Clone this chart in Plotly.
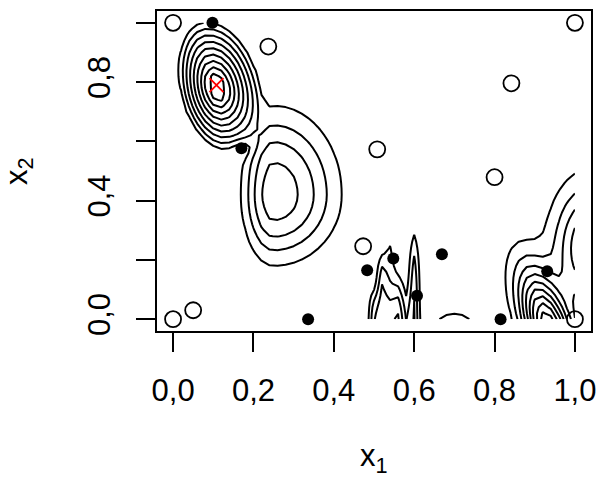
import numpy as np
import plotly.graph_objects as go

# ---- data ----
open_x = [0.0, 0.05, 0.0, 0.237, 0.508, 0.473, 0.80, 0.842, 1.0, 1.0]
open_y = [1.0, 0.03, 0.0, 0.92, 0.573, 0.246, 0.479, 0.796, 1.0, 0.0]
fill_x = [0.098, 0.17, 0.336, 0.483, 0.548, 0.607, 0.669, 0.815, 0.931]
fill_y = [1.0, 0.577, 0.0, 0.165, 0.205, 0.079, 0.219, 0.0, 0.162]
best_x = [0.108]
best_y = [0.79]

# surface bumps: centre, left/right and down/up spreads, tilt (deg), height,
# shape power (0 = flat-topped cone), cap
bump_cx = [0.108, 0.25, 0.17, 0.505, 0.602, 0.553, 0.70, 1.04, 0.94]
bump_cy = [0.78, 0.42, 0.577, -0.03, -0.03, -0.04, -0.03, 0.24, -0.05]
bump_sxl = [0.097, 0.068, 0.03, 0.02, 0.014, 0.03, 0.05, 0.088, 0.055]
bump_sxr = [0.115, 0.144, 0.03, 0.02, 0.014, 0.03, 0.05, 0.088, 0.055]
bump_syd = [0.23, 0.204, 0.03, 0.283, 0.31, 0.17, 0.05, 0.205, 0.208]
bump_syu = [0.245, 0.255, 0.03, 0.283, 0.31, 0.17, 0.05, 0.205, 0.208]
bump_ang = [8, 0, 0, -6, 0, 0, 0, 0, 14]
bump_h = [11.26, 4.5, -0.8, 3.0, 3.0, 4.3, 2.5, 5.5, 10.0]
bump_p = [0, 2.5, 2, 4, 4, 3, 2, 2, 2]
bump_cap = [9.4, 99, 99, 99, 99, 99, 99, 99, 99]

levels_start, levels_end, levels_step = 1, 10, 1
x_tick_vals = [0.0, 0.2, 0.4, 0.6, 0.8, 1.0]
x_tick_text = ["0,0", "0,2", "0,4", "0,6", "0,8", "1,0"]
y_tick_vals = [0.0, 0.4, 0.8]
y_tick_text = ["0,0", "0,4", "0,8"]

# ---- surface ----
gx = np.linspace(0, 1, 51)
gy = np.linspace(0, 1, 51)
X, Y = np.meshgrid(gx, gy)
Z = np.zeros_like(X)
for cx, cy, sxl, sxr, syd, syu, ang, h, p, cap in zip(
        bump_cx, bump_cy, bump_sxl, bump_sxr, bump_syd, bump_syu,
        bump_ang, bump_h, bump_p, bump_cap):
    a = np.deg2rad(ang)
    dx = X - cx
    dy = Y - cy
    u = -dx * np.sin(a) + dy * np.cos(a)
    v = dx * np.cos(a) + dy * np.sin(a)
    sx = np.where(v < 0, sxl, sxr)
    sy = np.where(u < 0, syd, syu)
    d = np.sqrt((v / sx) ** 2 + (u / sy) ** 2)
    if p == 0:
        f = h * np.clip(1 - d, 0, None)
    else:
        f = h * np.exp(-d ** p)
    Z += np.minimum(f, cap)

FONT = "Liberation Sans, Arial, Helvetica, sans-serif"
FS = 31

fig = go.Figure()
fig.add_trace(go.Contour(
    x=gx, y=gy, z=Z,
    contours=dict(coloring="lines", start=levels_start, end=levels_end, size=levels_step, showlabels=False),
    colorscale=[[0, "black"], [1, "black"]],
    showscale=False,
    line=dict(width=2, smoothing=0),
    hoverinfo="skip",
))
fig.add_trace(go.Scatter(
    x=open_x, y=open_y, mode="markers",
    marker=dict(symbol="circle-open", size=16, color="black", line=dict(width=1.8)),
    cliponaxis=False, hoverinfo="skip",
))
fig.add_trace(go.Scatter(
    x=fill_x, y=fill_y, mode="markers",
    marker=dict(symbol="circle", size=12, color="black", line=dict(width=0)),
    cliponaxis=False, hoverinfo="skip",
))
fig.add_trace(go.Scatter(
    x=best_x, y=best_y, mode="markers",
    marker=dict(symbol="x-thin", size=14, color="red", line=dict(width=1.8, color="red")),
    cliponaxis=False, hoverinfo="skip",
))

axis_common = dict(
    range=[-0.04, 1.04], showgrid=False, zeroline=False, automargin=False,
    showline=True, linecolor="black", linewidth=1.6, mirror=True,
    ticks="outside", ticklen=19, tickwidth=1.6, tickcolor="black",
    tickfont=dict(family=FONT, size=FS, color="black"),
)
fig.update_layout(
    width=601, height=479,
    margin=dict(l=156.6, r=10, t=10.5, b=148),
    paper_bgcolor="white", plot_bgcolor="white",
    showlegend=False,
    xaxis=dict(**axis_common, tickvals=x_tick_vals, ticktext=x_tick_text, ticklabelstandoff=12),
    yaxis=dict(**axis_common, tickvals=y_tick_vals, ticktext=y_tick_text, tickangle=-90,
               ticklabelstandoff=14,
               minor=dict(dtick=0.2, tick0=0, ticks="outside", ticklen=19, tickwidth=1.6,
                          tickcolor="black", showgrid=False)),
    annotations=[
        dict(text="x<sub>1</sub>", xref="paper", yref="paper", x=0.5, y=-0.398,
             xanchor="center", yanchor="middle", showarrow=False,
             font=dict(family=FONT, size=FS, color="black")),
        dict(text="x<sub>2</sub>", xref="paper", yref="paper", x=-0.318, y=0.5,
             xanchor="center", yanchor="middle", showarrow=False, textangle=-90,
             font=dict(family=FONT, size=FS, color="black")),
    ],
)
fig.write_html("out.html", config={"displayModeBar": False},
               post_script="document.body.style.margin='0px';")
